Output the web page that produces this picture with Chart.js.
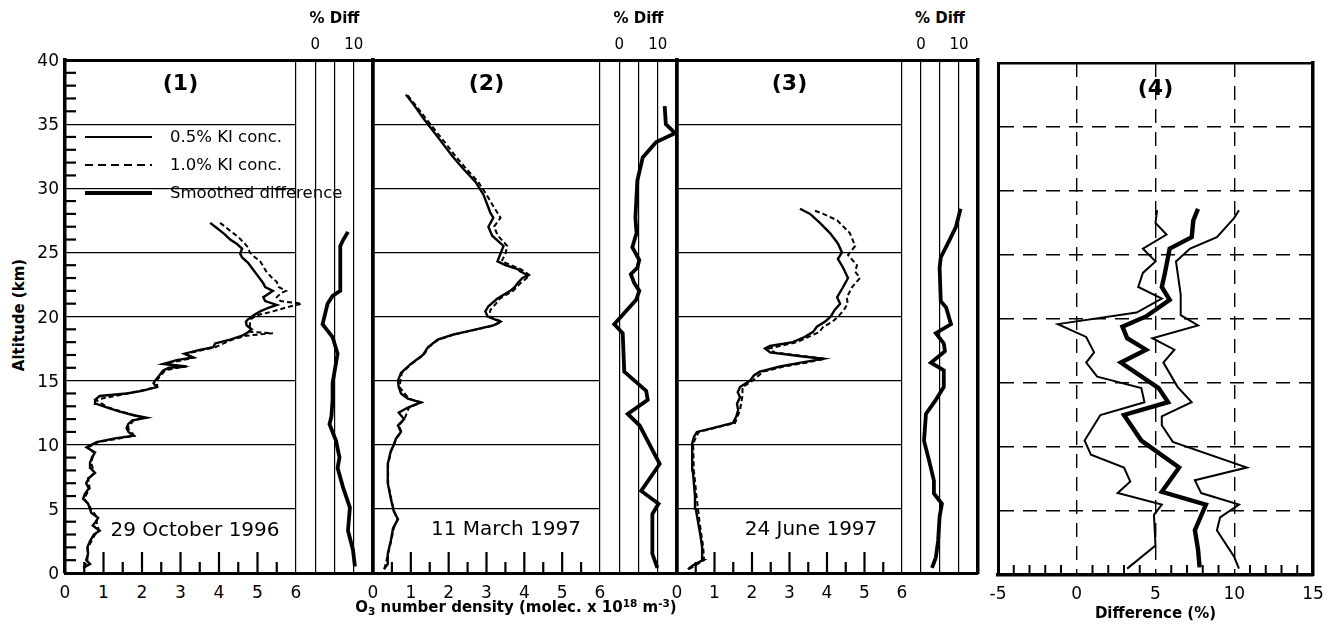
<!DOCTYPE html>
<html>
<head>
<meta charset="utf-8">
<script src="https://cdn.jsdelivr.net/npm/chart.js@4.4.1/dist/chart.umd.min.js"></script>
<style>
  body { margin: 0; width: 1336px; height: 628px; position: relative; overflow: hidden; background: #fff; font-family: "DejaVu Sans", sans-serif; color: #000; }
  canvas { position: absolute; }
  .lbl { position: absolute; white-space: nowrap; line-height: 1; font-size: 17px; transform: translate(-50%, -50%); }
  .right { transform: translate(-100%, -50%); }
  .left { transform: translate(0, -50%); }
  .bold { font-weight: bold; }
  .rot { transform: translate(-50%, -50%) rotate(-90deg); }
  sub { font-size: 0.7em; vertical-align: -0.3em; }
  sup { font-size: 0.7em; vertical-align: 0.5em; }
</style>
</head>
<body>
<svg style="position:absolute;left:83px;top:128px" width="72" height="75">
  <line x1="2" y1="9" x2="69" y2="9" stroke="#000" stroke-width="2.2"/>
  <line x1="2" y1="37" x2="69" y2="37" stroke="#000" stroke-width="2" stroke-dasharray="8 5"/>
  <line x1="2" y1="65" x2="69" y2="65" stroke="#000" stroke-width="4"/>
</svg>
<script>
// ---- data ----
// panel 1, 29 October 1996
const alt1a = [0.4,0.7,1.0,1.5,2.0,2.5,3.0,3.3,3.7,4.0,4.3,4.7,5.0,5.4,5.8,6.2,6.6,7.0,7.4,7.8,8.2,8.6,9.0,9.4,9.8,10.2,10.5,10.7,11.0,11.3,11.6,11.9,12.1,12.3,12.6,12.9,13.2,13.5,13.8,14.0,14.2,14.5,14.8,15.0,15.4,15.8,16.0,16.1,16.3,16.6,16.8,17.1,17.4,17.6,17.9,18.2,18.5,18.7,19.0,19.3,19.6,19.8,20.1,20.4,20.7,20.9,21.2,21.5,21.8,22.0,22.3,22.6,23.0,23.4,23.8,24.2,24.6,24.9,25.3,25.7,26.0,26.4,26.7,27.0,27.3]
const o3Low1 = [0.47,0.65,0.55,0.6,0.58,0.65,0.75,0.9,0.72,0.8,0.86,0.68,0.65,0.6,0.47,0.52,0.62,0.55,0.62,0.78,0.66,0.65,0.7,0.78,0.56,0.82,1.3,1.78,1.65,1.6,1.64,1.75,2.12,1.78,1.4,1.1,0.8,0.78,0.9,1.6,2.0,2.38,2.3,2.34,2.45,2.55,2.7,3.16,2.55,2.9,3.33,3.1,3.5,3.85,3.9,4.29,4.6,4.72,4.85,4.72,4.7,4.76,4.9,5.07,5.3,5.5,5.2,5.15,5.3,5.4,5.2,5.15,5.05,4.95,4.85,4.75,4.6,4.55,4.6,4.45,4.29,4.15,4.03,3.9,3.77]
const alt1b = [0.4,1.0,2.0,3.0,3.3,4.0,4.3,5.0,5.8,6.6,7.4,7.8,8.6,9.4,9.8,10.2,10.7,11.3,11.9,12.1,12.3,12.9,13.5,14.0,14.5,15.0,15.8,16.1,16.3,16.8,17.1,17.6,18.2,18.5,18.7,18.8,19.3,19.8,20.1,20.4,20.7,21.0,21.2,21.5,21.8,22.0,22.3,22.7,23.1,23.5,23.9,24.3,24.7,25.0,25.4,25.8,26.2,26.5,26.9,27.3]
const o3High1 = [0.5,0.58,0.6,0.78,0.88,0.82,0.84,0.68,0.5,0.64,0.6,0.76,0.68,0.75,0.6,0.85,1.8,1.63,1.78,2.05,1.8,1.12,0.8,1.62,2.4,2.38,2.6,3.1,2.6,3.35,3.15,3.9,4.35,4.7,5.4,4.8,4.8,4.82,5.0,5.4,5.74,6.15,5.6,5.5,5.6,5.74,5.55,5.5,5.35,5.23,5.15,5.07,4.9,4.8,4.75,4.63,4.5,4.37,4.2,4.03]
const altDiff1 = [0.5,1.8,3.3,5.1,6.7,8.2,9.0,10.3,11.6,12.2,13.5,14.8,17.1,18.4,19.4,21.0,21.6,22.0,25.5,26.0,26.6]
const diff1 = [10.3,9.8,8.5,9.0,7.2,5.8,6.3,5.4,3.7,4.2,4.5,4.5,5.8,4.5,1.9,3.2,4.5,6.5,6.5,7.3,8.5]

// panel 2, 11 March 1997
const alt2a = [0.3,0.7,1.5,2.5,3.5,4.2,4.8,5.8,7.0,8.5,9.5,10.0,10.5,11.0,11.5,12.0,12.5,12.9,13.3,13.6,14.0,14.5,15.0,15.6,16.3,17.0,17.6,18.2,18.6,18.9,19.3,19.6,20.0,20.4,20.8,21.4,22.0,22.3,22.6,23.0,23.2,23.5,23.7,24.0,24.3,24.9,25.5,25.9,26.3,27.0,27.7,28.1,28.5,29.5,30.5,31.5,32.5,33.5,34.5,35.5,36.5,37.3]
const o3Low2 = [0.29,0.39,0.39,0.47,0.53,0.66,0.55,0.47,0.39,0.39,0.47,0.55,0.61,0.74,0.66,0.82,0.68,0.92,1.26,0.92,0.74,0.68,0.66,0.74,1.0,1.32,1.45,1.71,2.13,2.58,3.18,3.37,3.03,2.97,3.05,3.29,3.63,3.75,3.82,3.95,4.1,3.9,3.82,3.5,3.29,3.37,3.45,3.3,3.15,3.05,3.18,3.1,3.05,2.92,2.71,2.39,2.1,1.84,1.58,1.32,1.08,0.87]
const alt2b = [0.3,1.5,2.5,3.5,4.2,4.8,5.8,7.0,8.5,9.5,10.5,11.0,11.5,12.0,12.9,13.3,13.6,14.5,15.6,16.3,17.0,17.6,18.2,18.6,18.9,19.3,19.6,20.0,20.5,21.0,21.4,22.0,22.6,23.2,23.7,24.3,24.9,25.5,26.3,27.0,27.7,28.5,29.5,30.5,31.5,32.5,33.5,34.5,35.5,36.5,37.3]
const o3High2 = [0.3,0.4,0.48,0.55,0.65,0.56,0.48,0.4,0.4,0.48,0.62,0.75,0.68,0.83,0.95,1.28,0.95,0.7,0.76,1.02,1.34,1.47,1.73,2.15,2.6,3.2,3.4,3.08,3.1,3.25,3.35,3.7,3.9,4.15,3.9,3.4,3.5,3.55,3.3,3.2,3.37,3.2,3.0,2.78,2.47,2.18,1.92,1.65,1.38,1.12,0.9]
const altDiff2 = [0.4,1.5,4.6,5.4,6.4,8.5,11.5,12.4,13.5,14.2,15.7,18.7,19.4,21.3,22.0,22.6,23.3,23.8,24.4,25.4,26.5,27.7,30.6,32.4,33.6,34.3,35.0,36.4]
const diff2 = [9.9,8.6,8.6,10.2,5.7,10.5,5.3,2.2,7.4,7.0,1.3,0.9,-1.3,4.4,5.2,3.9,3.0,4.7,5.2,3.4,4.5,4.2,4.7,6.1,9.6,14.5,12.1,11.8]

// panel 3, 24 June 1997
const alt3a = [0.3,0.6,1.0,2.0,3.0,4.0,5.0,6.0,7.0,8.0,9.0,10.1,10.6,11.0,11.3,11.7,12.2,12.7,13.2,13.7,14.1,14.5,15.0,15.4,15.7,16.1,16.4,16.7,16.9,17.2,17.5,17.7,18.0,18.4,18.8,19.2,19.6,20.0,20.5,21.0,21.5,22.3,23.0,23.8,24.5,25.0,25.7,26.5,27.3,28.0,28.4]
const o3Low3 = [0.29,0.43,0.69,0.67,0.62,0.56,0.5,0.48,0.45,0.42,0.41,0.4,0.45,0.53,0.95,1.49,1.58,1.63,1.6,1.68,1.62,1.68,1.95,2.05,2.21,2.75,3.3,3.89,3.3,2.48,2.35,2.48,3.09,3.4,3.63,3.73,3.95,4.1,4.2,4.35,4.27,4.43,4.56,4.43,4.29,4.4,4.29,4.08,3.81,3.55,3.28]
const alt3b = [0.3,1.0,2.0,4.0,6.0,8.0,10.1,11.0,11.3,11.7,12.7,13.7,14.5,15.0,15.7,16.1,16.4,16.7,17.2,17.5,18.0,18.8,19.2,19.6,20.0,20.5,21.0,21.5,22.3,23.0,23.5,24.0,24.8,25.5,26.5,27.5,28.0,28.3]
const o3High3 = [0.32,0.72,0.7,0.6,0.52,0.45,0.43,0.58,1.0,1.55,1.68,1.74,1.75,2.02,2.3,2.85,3.45,3.95,2.6,2.45,3.2,3.8,3.9,4.15,4.3,4.45,4.55,4.53,4.67,4.88,4.75,4.8,4.56,4.75,4.61,4.27,3.9,3.63]
const altDiff3 = [0.4,1.2,2.5,4.4,5.4,6.2,7.2,8.8,10.3,12.4,13.5,14.5,15.8,16.4,17.3,17.9,18.7,19.4,20.7,21.2,23.8,24.6,25.9,27.0,28.4]
const diff3 = [2.9,3.9,4.5,4.9,5.5,3.4,3.4,2.1,0.8,1.3,3.9,6.0,6.0,2.6,6.3,6.0,3.9,7.9,6.6,5.2,4.9,5.2,7.4,9.2,10.4]

// panel 4, difference statistics
const altMean = [0.6,2.0,3.5,5.5,6.5,8.4,10.5,12.5,13.5,14.6,16.6,17.6,18.5,19.4,20.2,21.5,22.5,23.6,25.5,26.4,27.7,28.6]
const meanDiff = [7.8,7.7,7.5,8.2,5.4,6.5,4.1,3.0,5.8,5.2,2.8,4.4,3.2,2.9,4.4,5.9,5.4,5.6,5.9,7.3,7.4,7.7]
const altMin = [0.5,2.3,4.7,5.5,6.4,7.3,8.4,9.4,10.5,12.5,13.5,14.6,15.5,16.6,17.4,18.6,19.6,20.5,21.6,22.5,23.6,24.5,25.5,26.6,27.5,28.5]
const minDiff = [3.2,5.0,4.9,5.4,2.6,3.4,3.0,0.9,0.5,1.5,4.3,4.1,1.3,0.6,1.1,0.6,-1.2,3.8,5.4,3.9,4.2,5.0,4.2,5.7,5.0,5.1]
const altMax = [0.5,1.4,3.5,4.5,5.5,6.4,7.4,8.4,10.4,11.7,12.4,13.5,14.7,16.6,17.6,18.5,19.5,20.3,21.9,24.5,25.5,26.4,27.9,28.5]
const maxDiff = [10.3,10.0,8.9,9.1,10.3,7.9,7.5,10.8,6.1,5.4,5.4,7.3,6.4,5.5,6.2,4.8,7.7,6.6,6.6,6.3,7.2,8.9,10.0,10.3]

// ticks and labels
const altTicks = [0, 5, 10, 15, 20, 25, 30, 35, 40]
const altMinor = [1,2,3,4,6,7,8,9,11,12,13,14,16,17,18,19,21,22,23,24,26,27,28,29,31,32,33,34,36,37,38,39]
const o3Ticks = [0, 1, 2, 3, 4, 5, 6]
const o3Major = [1, 2, 3, 4, 5]
const o3Minor = [0.5, 1.5, 2.5, 3.5, 4.5, 5.5]
const stripTicks = [0, 10]
const diffTicks = [-5, 0, 5, 10, 15]
const diffMinor = [-4,-3,-2,-1,1,2,3,4,6,7,8,9,11,12,13,14]
const panelNames = ['(1)', '(2)', '(3)', '(4)']
const dates = ['29 October 1996', '11 March 1997', '24 June 1997']
const legendNames = ['0.5% KI conc.', '1.0% KI conc.', 'Smoothed difference']

// ---- drawing ----
const PAD = 6

const pts = (xs, ys) => xs.map((x, i) => ({ x: x, y: ys[i] }))

const lineSet = (data, width, dash) => ({
  data: data,
  showLine: true,
  pointRadius: 0,
  borderColor: '#000',
  borderWidth: width,
  borderDash: dash || [],
  tension: 0,
  clip: 12
})

// inward tick marks along the bottom or left edge
const tickMarks = (marks) => ({
  id: 'tickMarks',
  afterDraw(chart) {
    const ctx = chart.ctx
    const area = chart.chartArea
    ctx.save()
    ctx.setLineDash([])
    ctx.strokeStyle = '#000'
    marks.forEach(m => {
      ctx.lineWidth = m.width
      m.values.forEach(v => {
        ctx.beginPath()
        if (m.axis === 'x') {
          const px = chart.scales.x.getPixelForValue(v)
          ctx.moveTo(px, area.bottom)
          ctx.lineTo(px, area.bottom - m.length)
        } else {
          const py = chart.scales.y.getPixelForValue(v)
          ctx.moveTo(area.left, py)
          ctx.lineTo(area.left + m.length, py)
        }
        ctx.stroke()
      })
    })
    ctx.restore()
  }
})

const edgeAxis = (pos, width) => ({
  type: 'linear', position: pos, display: width > 0, min: 0, max: 1,
  ticks: { display: false },
  grid: { display: false, drawTicks: false },
  border: { display: true, width: width, color: '#000' }
})

function makePanel(box, spec) {
  const canvas = document.createElement('canvas')
  const w = box.r - box.l + 2 * PAD
  const h = box.b - box.t + 2 * PAD
  canvas.width = w
  canvas.height = h
  canvas.style.left = (box.l - PAD) + 'px'
  canvas.style.top = (box.t - PAD) + 'px'
  canvas.style.width = w + 'px'
  canvas.style.height = h + 'px'
  document.body.appendChild(canvas)

  const chart = new Chart(canvas, {
    type: 'scatter',
    data: { datasets: spec.datasets },
    options: {
      responsive: false,
      animation: false,
      devicePixelRatio: 1,
      events: [],
      layout: { padding: PAD },
      plugins: { legend: { display: false }, tooltip: { enabled: false } },
      scales: {
        x: {
          type: 'linear', position: 'bottom', min: spec.x[0], max: spec.x[1],
          ticks: { display: false, stepSize: 5 },
          grid: { display: spec.xGrid, drawTicks: false, color: '#000', lineWidth: spec.gridWidth || 1.2 },
          border: { display: spec.edges[3] > 0, width: spec.edges[3], color: '#000', dash: spec.dash || [] }
        },
        y: {
          type: 'linear', position: 'left', min: 0, max: 40,
          ticks: { display: false, stepSize: 5 },
          grid: { display: spec.yGrid, drawTicks: false, color: '#000', lineWidth: spec.gridWidth || 1.2 },
          border: { display: spec.edges[0] > 0, width: spec.edges[0], color: '#000', dash: spec.dash || [] }
        },
        xTop: edgeAxis('top', spec.edges[1]),
        yRight: edgeAxis('right', spec.edges[2])
      }
    },
    plugins: [tickMarks(spec.marks || [])]
  })
  chart.offX = box.l - PAD
  chart.offY = box.t - PAD
  return chart
}

const xPix = (chart, v) => chart.offX + chart.scales.x.getPixelForValue(v)
const yPix = (chart, v) => chart.offY + chart.scales.y.getPixelForValue(v)

function addLabel(html, x, y, cls, size) {
  const el = document.createElement('div')
  el.className = 'lbl ' + (cls || '')
  el.innerHTML = html
  el.style.left = x + 'px'
  el.style.top = y + 'px'
  if (size) el.style.fontSize = size + 'px'
  document.body.appendChild(el)
  return el
}

const TOP = 60, BOT = 573
const mainBoxes = [
  { l: 65, r: 296, t: TOP, b: BOT },
  { l: 373, r: 600, t: TOP, b: BOT },
  { l: 677, r: 902, t: TOP, b: BOT }
]
const stripBoxes = [
  { l: 296, r: 373, t: TOP, b: BOT },
  { l: 600, r: 677, t: TOP, b: BOT },
  { l: 902, r: 978, t: TOP, b: BOT }
]
const box4 = { l: 998, r: 1313, t: 63, b: 575 }

const profiles = [
  [pts(o3Low1, alt1a), pts(o3High1, alt1b), pts(diff1, altDiff1)],
  [pts(o3Low2, alt2a), pts(o3High2, alt2b), pts(diff2, altDiff2)],
  [pts(o3Low3, alt3a), pts(o3High3, alt3b), pts(diff3, altDiff3)]
]

const mains = []
const strips = []
profiles.forEach((p, i) => {
  const marks = i === 0 ? [{ axis: 'y', values: altMinor, length: 11, width: 2.2 }] : []
  mains.push(makePanel(mainBoxes[i], {
    x: [0, 6],
    xGrid: false,
    yGrid: true,
    edges: [3.5, 3, 0, 3],
    marks: marks,
    datasets: [lineSet(p[0], 2.4), lineSet(p[1], 2, [5, 3])]
  }))
  strips.push(makePanel(stripBoxes[i], {
    x: [-5, 15],
    xGrid: true,
    yGrid: false,
    edges: [0, 3, 3.5, 3],
    datasets: [lineSet(p[2], 3.8)]
  }))
})

const p4 = makePanel(box4, {
  x: [-5, 15],
  xGrid: true,
  yGrid: true,
  gridWidth: 1.4,
  dash: [14, 9],
  edges: [3, 2.5, 3.5, 3.5],
  marks: [{ axis: 'x', values: diffMinor, length: 10, width: 2 }],
  datasets: [
    lineSet(pts(minDiff, altMin), 2),
    lineSet(pts(maxDiff, altMax), 2),
    lineSet(pts(meanDiff, altMean), 4.4)
  ]
})

// ---- text ----
altTicks.forEach(v => addLabel(String(v), 59, yPix(mains[0], v), 'right'))
mains.forEach((c, i) => {
  o3Ticks.forEach(v => addLabel(String(v), xPix(c, v), 592))
  addLabel(panelNames[i], (xPix(c, 0) + xPix(c, 6)) / 2, 83, 'bold', 22)
})
addLabel(dates[0], 195, 529, '', 20)
addLabel(dates[1], 506, 528, '', 20)
addLabel(dates[2], 811, 528, '', 20)

strips.forEach(c => {
  addLabel('% Diff', xPix(c, 5), 18, 'bold', 15)
  stripTicks.forEach(v => addLabel(String(v), xPix(c, v), 44, '', 15))
})

diffTicks.forEach(v => addLabel(String(v), xPix(p4, v), 593))
addLabel(panelNames[3], xPix(p4, 5), 88, 'bold', 22)
addLabel('Difference (%)', xPix(p4, 5), 613, 'bold', 15)

addLabel('Altitude (km)', 19, 315, 'bold rot', 15)
addLabel('O<sub>3</sub> number density (molec. x 10<sup>18</sup> m<sup>-3</sup>)', 516, 607, 'bold', 15)

legendNames.forEach((t, i) => addLabel(t, 170, 137 + i * 28, 'left', 16.5))

// bottom ticks of the ozone panels: a transparent layer on top of everything else
mainBoxes.forEach(box => {
  const layer = makePanel(box, {
    x: [0, 6],
    xGrid: false,
    yGrid: false,
    edges: [0, 0, 0, 0],
    marks: [
      { axis: 'x', values: o3Major, length: 21, width: 2.2 },
      { axis: 'x', values: o3Minor, length: 11, width: 2.2 }
    ],
    datasets: []
  })
  layer.canvas.style.zIndex = 5
})
</script>
</body>
</html>
